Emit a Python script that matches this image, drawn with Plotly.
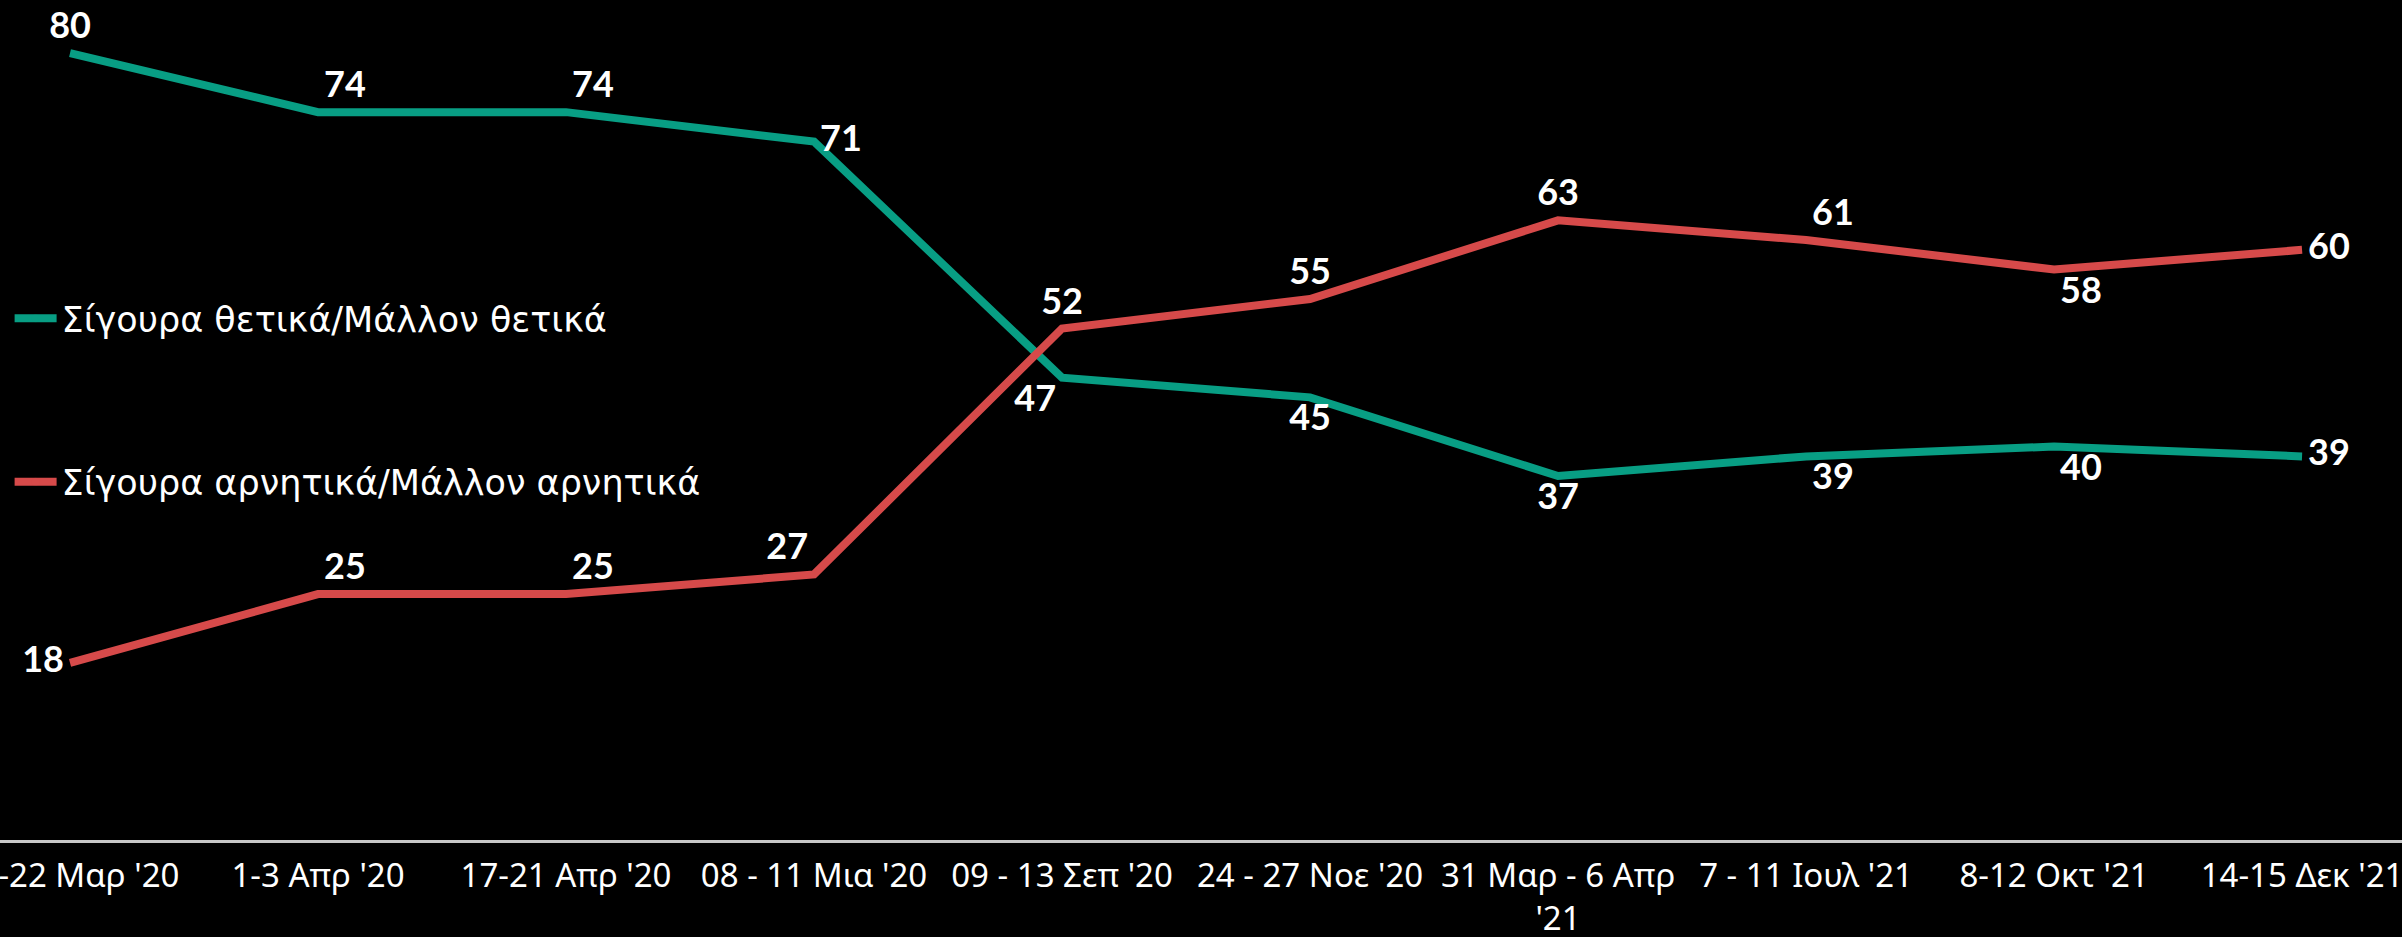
import plotly.graph_objects as go

categories = ["17-22 Μαρ '20", "1-3 Απρ '20", "17-21 Απρ '20", "08 - 11 Μια '20",
              "09 - 13 Σεπ '20", "24 - 27 Νοε '20", "31 Μαρ - 6 Απρ<br>'21",
              "7 - 11 Ιουλ '21", "8-12 Οκτ '21", "14-15 Δεκ '21"]
positive = [80, 74, 74, 71, 47, 45, 37, 39, 40, 39]
negative = [18, 25, 25, 27, 52, 55, 63, 61, 58, 60]
positive_name = "Σίγουρα θετικά/Μάλλον θετικά"
negative_name = "Σίγουρα αρνητικά/Μάλλον αρνητικά"

pos_textpos = ["top center", "top right", "top right", "middle right", "bottom left",
               "bottom center", "bottom center", "bottom right", "bottom right", "middle right"]
neg_textpos = ["middle left", "top right", "top right", "top left", "top center",
               "top center", "top center", "top right", "bottom right", "middle right"]

GREEN = "#089E84"
RED = "#D64A4A"
label_font = dict(family="Lato", size=36, color="white", weight="bold")

fig = go.Figure()
fig.add_trace(go.Scatter(
    x=list(range(len(categories))), y=positive, name=positive_name, legendgroup="a",
    mode="lines+markers+text", text=[str(v) for v in positive], textposition=pos_textpos,
    textfont=label_font, line=dict(color=GREEN, width=8),
    marker=dict(size=8, color=GREEN, opacity=0), cliponaxis=False, hoverinfo="skip"))
fig.add_trace(go.Scatter(
    x=list(range(len(categories))), y=negative, name=negative_name, legendgroup="b",
    mode="lines+markers+text", text=[str(v) for v in negative], textposition=neg_textpos,
    textfont=label_font, line=dict(color=RED, width=8),
    marker=dict(size=8, color=RED, opacity=0), cliponaxis=False, hoverinfo="skip"))

fig.update_layout(
    width=2402, height=937,
    paper_bgcolor="#000000", plot_bgcolor="#000000",
    margin=dict(l=0, r=0, t=0, b=97),
    showlegend=True,
    legend=dict(x=0.004, y=0.656, xanchor="left", yanchor="top", tracegroupgap=115,
                itemwidth=42,
                font=dict(family="DejaVu Sans", size=35, color="white"),
                bgcolor="rgba(0,0,0,0)", itemclick=False),
    xaxis=dict(range=[-0.2823, 9.403], tickmode="array",
               tickvals=list(range(len(categories))), ticktext=categories,
               showgrid=False, zeroline=False, showline=True, linecolor="#c8c8c8", linewidth=3,
               ticks="", tickfont=dict(family="Noto Sans", size=33, color="white"),
               ticklabelstandoff=4, ticklabeloverflow="allow", automargin=False),
    yaxis=dict(range=[0, 85.4], visible=False, showgrid=False, zeroline=False,
               automargin=False),
)

fig.write_html("out.html", config={"displayModeBar": False},
               post_script="document.body.style.margin='0';document.body.style.background='#000';")
